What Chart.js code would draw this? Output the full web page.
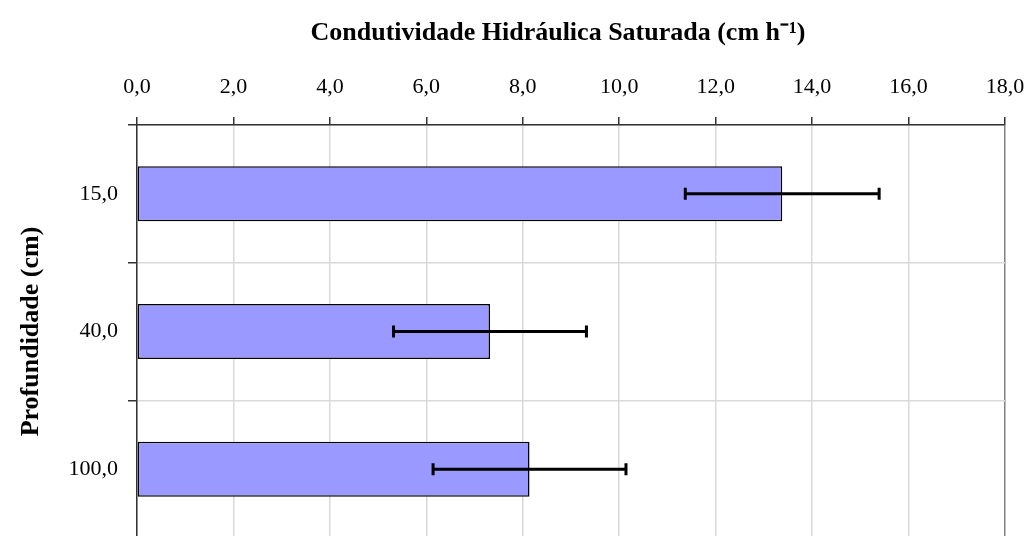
<!DOCTYPE html>
<html>
<head>
<meta charset="utf-8">
<script src="https://cdn.jsdelivr.net/npm/chart.js@4"></script>
<style>
  html, body { margin: 0; padding: 0; background: #fff; overflow: hidden; }
  #wrap { width: 1030px; height: 538px; position: relative; }
</style>
</head>
<body>
<div id="wrap"><canvas id="ksatChart"></canvas></div>
<script>
// profundidades (cm) e condutividade média com desvio
const profundidades = ['15,0', '40,0', '100,0'];
const ksat = [13.38, 7.32, 8.14];
const desvio = [2.01, 2.0, 2.0];
const xTicks = [0, 2, 4, 6, 8, 10, 12, 14, 16, 18];

const fmt = v => v.toFixed(1).replace('.', ',');

// barras de erro desenhadas com as escalas do gráfico
const errorBars = {
  id: 'errorBars',
  afterDatasetsDraw(chart) {
    const ctx = chart.ctx;
    const xs = chart.scales.x;
    const meta = chart.getDatasetMeta(0);
    ctx.save();
    ctx.strokeStyle = '#000';
    ctx.lineWidth = 3;
    meta.data.forEach((bar, i) => {
      const y = bar.y;
      const x0 = xs.getPixelForValue(ksat[i] - desvio[i]);
      const x1 = xs.getPixelForValue(ksat[i] + desvio[i]);
      ctx.beginPath();
      ctx.moveTo(x0, y); ctx.lineTo(x1, y);
      ctx.moveTo(x0, y - 6); ctx.lineTo(x0, y + 6);
      ctx.moveTo(x1, y - 6); ctx.lineTo(x1, y + 6);
      ctx.stroke();
    });
    ctx.restore();
  }
};

const ctx = document.getElementById('ksatChart').getContext('2d');
const ksatChart = new Chart(ctx, {
  type: 'bar',
  data: {
    labels: profundidades,
    datasets: [{
      data: ksat,
      backgroundColor: '#9999ff',
      borderColor: '#000',
      borderWidth: 1.5,
      borderSkipped: false,
      categoryPercentage: 1.0,
      barPercentage: 0.4
    }]
  },
  options: {
    indexAxis: 'y',
    responsive: true,
    maintainAspectRatio: false,
    animation: false,
    layout: { padding: { left: 0, right: 25, top: 0, bottom: 0 } },
    plugins: {
      legend: { display: false },
      tooltip: { enabled: false }
    },
    scales: {
      x: {
        position: 'top',
        min: 0,
        max: 18,
        afterBuildTicks: axis => { axis.ticks = xTicks.map(v => ({ value: v })); },
        afterFit: axis => {
          axis.height = 125;
          axis.paddingLeft = 0;
          axis.paddingRight = 0;
        },
        ticks: {
          callback: v => fmt(v),
          color: '#000',
          padding: 17,
          font: { family: 'Liberation Serif', size: 22 }
        },
        grid: {
          color: c => (c.tick && c.tick.value === 18) ? '#808080' : '#d9d9d9',
          lineWidth: 1.5,
          tickColor: '#333',
          tickLength: 8
        },
        border: { color: '#333', width: 1.5 },
        title: {
          display: true,
          // espaço no fim desloca o título um pouco para a esquerda
          text: 'Condutividade Hidráulica Saturada (cm h⁻¹)\u2003',
          color: '#000',
          padding: { top: 18, bottom: 0 },
          font: { family: 'Liberation Serif', size: 26, weight: 'bold' }
        }
      },
      y: {
        afterFit: axis => {
          axis.width = 137;
          axis.paddingTop = 0;
          axis.paddingBottom = 0;
        },
        ticks: {
          color: '#000',
          padding: 10,
          font: { family: 'Liberation Serif', size: 22 }
        },
        grid: {
          offset: true,
          color: '#d9d9d9',
          lineWidth: 1.5,
          tickColor: '#333',
          tickLength: 9
        },
        border: { color: '#333', width: 1.5 },
        title: {
          display: true,
          text: 'Profundidade (cm)',
          color: '#000',
          padding: { top: 16, bottom: 0 },
          font: { family: 'Liberation Serif', size: 26, weight: 'bold' }
        }
      }
    }
  },
  plugins: [errorBars]
});
</script>
</body>
</html>
